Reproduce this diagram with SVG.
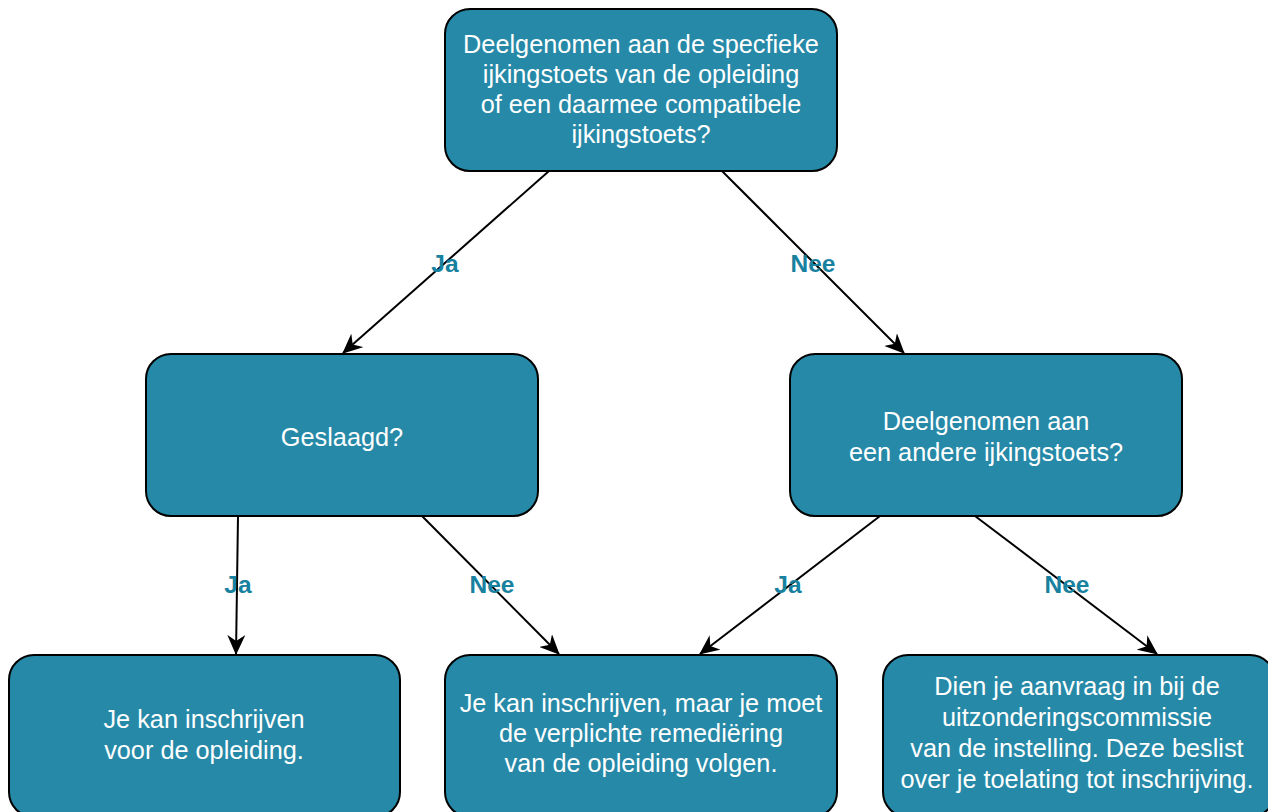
<svg xmlns="http://www.w3.org/2000/svg" width="1268" height="812" viewBox="0 0 1268 812">
<style>
.node rect{fill:#2689a7;stroke:#000;stroke-width:2}
.node text{fill:#fff;font-family:"Liberation Sans",Arial,sans-serif;font-size:25.3px;text-anchor:middle}
.edge{stroke:#000;stroke-width:2;fill:none;marker-end:url(#arr)}
.lbl{fill:#17819f;font-family:"Liberation Sans",Arial,sans-serif;font-size:24.5px;font-weight:bold;text-anchor:middle}
</style>
<defs>
<marker id="arr" viewBox="0 0 20 18" refX="19" refY="9" markerWidth="20" markerHeight="18" orient="auto" markerUnits="userSpaceOnUse">
<path d="M0,0 L20,9 L0,18 L6,9 Z" fill="#000"/>
</marker>
</defs>
<rect width="1268" height="812" fill="#fff"/>
<g id="connectors">
<line class="edge" x1="549" y1="171" x2="343" y2="353"/>
<line class="edge" x1="722" y1="171" x2="904" y2="353"/>
<line class="edge" x1="238" y1="516" x2="236" y2="654"/>
<line class="edge" x1="422" y1="516" x2="559" y2="654"/>
<line class="edge" x1="880" y1="516" x2="700" y2="654"/>
<line class="edge" x1="975" y1="516" x2="1157" y2="654"/>
<text class="lbl" x="445" y="272">Ja</text>
<text class="lbl" x="813" y="272">Nee</text>
<text class="lbl" x="238" y="593">Ja</text>
<text class="lbl" x="492" y="593">Nee</text>
<text class="lbl" x="788" y="593">Ja</text>
<text class="lbl" x="1067" y="593">Nee</text>
</g>
<g id="n-top" class="node">
<rect x="445" y="9" width="392" height="162" rx="25"/>
<text x="641" y="53">Deelgenomen aan de specfieke</text>
<text x="641" y="83">ijkingstoets van de opleiding</text>
<text x="641" y="113">of een daarmee compatibele</text>
<text x="641" y="143">ijkingstoets?</text>
</g>
<g id="n-geslaagd" class="node">
<rect x="146" y="354" width="392" height="162" rx="25"/>
<text x="342" y="446">Geslaagd?</text>
</g>
<g id="n-andere" class="node">
<rect x="790" y="354" width="392" height="162" rx="25"/>
<text x="986" y="430">Deelgenomen aan</text>
<text x="986" y="461">een andere ijkingstoets?</text>
</g>
<g id="n-inschrijven" class="node">
<rect x="9" y="655" width="391" height="162" rx="25"/>
<text x="204" y="728">Je kan inschrijven</text>
<text x="204" y="759">voor de opleiding.</text>
</g>
<g id="n-remediering" class="node">
<rect x="445" y="655" width="392" height="162" rx="25"/>
<text x="641" y="712">Je kan inschrijven, maar je moet</text>
<text x="641" y="742">de verplichte remediëring</text>
<text x="641" y="772">van de opleiding volgen.</text>
</g>
<g id="n-commissie" class="node">
<rect x="883" y="655" width="392" height="162" rx="25"/>
<text x="1077" y="695">Dien je aanvraag in bij de</text>
<text x="1077" y="726">uitzonderingscommissie</text>
<text x="1077" y="757">van de instelling. Deze beslist</text>
<text x="1077" y="788">over je toelating tot inschrijving.</text>
</g>
</svg>
